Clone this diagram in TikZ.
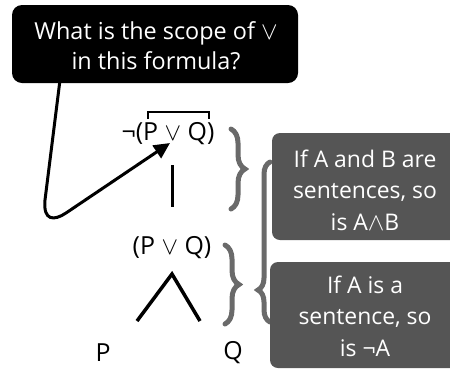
\documentclass[tikz,border=0pt]{standalone}
\usepackage{fontspec}
\setmainfont{Open Sans}
\usetikzlibrary{arrows.meta,decorations.pathreplacing}
\definecolor{boxgrey}{HTML}{555555}
\definecolor{bracegrey}{HTML}{6A6A6A}
\tikzset{
  calltext/.style={text=white,font=\fontsize{23.5}{30}\selectfont,align=center,inner sep=0},
  formula/.style={font=\fontsize{25}{28}\selectfont,inner sep=0},
  rulebox/.style={fill=boxgrey,rounded corners=8bp,draw=none},
  ruletext/.style={text=white,font=\fontsize{23}{31.5}\selectfont,align=center,inner sep=0},
  gbrace/.style={draw=bracegrey,line width=5bp,line cap=round,decorate,decoration={brace,amplitude=#1,aspect=0.5}},
  treeline/.style={line width=3.5bp},
}
\begin{document}
\begin{tikzpicture}[x=1bp,y=-1bp]
\useasboundingbox (0,0) rectangle (450,370);
% callout
\path[fill=black,rounded corners=10bp] (12,5) rectangle (298,83);
\node[calltext] (q) at (156,46) {What is the scope of $\vee$\\in this formula?};
\coordinate (tailstart) at (60,80);
% formula tree
\node[formula] (top) at (168,134) {¬(P $\vee$ Q)};
\node[formula] (mid) at (172,248) {(P $\vee$ Q)};
\node[formula] (p) at (103,353) {P};
\node[formula] (qq) at (233,353) {Q};
\coordinate (ob1) at (148,119);
\coordinate (ob2) at (209,119);
\draw[line width=1.6bp] (ob1) -- ++(0,-7) -| (ob2);
\coordinate (bar1) at (172,165);
\coordinate (bar2) at (172,207);
\draw[line width=3bp] (bar1) -- (bar2);
\coordinate (apex) at (172,274);
\coordinate (lend) at (137,321);
\coordinate (rend) at (200,321);
\draw[treeline,line join=miter] (lend) -- (apex) -- (rend);
% arrow tail
\coordinate (tip) at (170,143);
\draw[line width=3bp,-{Triangle[length=16bp,width=15bp]}]
  (tailstart) -- (45,200) .. controls (43,221) and (54,221) .. (66,213) -- (tip);
% braces
\draw[gbrace=14bp] (231,129) -- (231,209);
\draw[gbrace=14bp] (225,245) -- (225,324);
\draw[draw=bracegrey,line width=5bp,line cap=round,decorate,decoration={brace,amplitude=12bp,aspect=0.2}] (270,322) -- (270,162);
% rule boxes
\path[rulebox] (272,133) rectangle (462,240);
\node[ruletext] (r1) at (365,190) {If A and B are\\sentences, so\\is A$\wedge$B};
\path[rulebox] (270,262) rectangle (462,368);
\node[ruletext] (r2) at (365,316) {If A is a\\sentence, so\\is ¬A};
\end{tikzpicture}
\end{document}
